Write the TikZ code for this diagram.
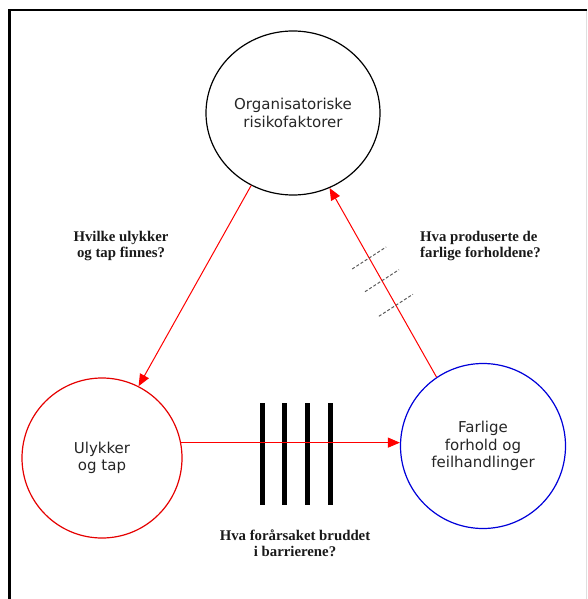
\documentclass[tikz,border=0pt]{standalone}
\usepackage{fontspec}
\newfontfamily\circfont{DejaVu Sans}
\newfontfamily\qfont{Liberation Serif}
\usetikzlibrary{calc,shapes.geometric,arrows.meta}

\tikzset{
  factor/.style={draw, line width=1.2pt, inner sep=0pt, align=center, text=black!85,
    font=\circfont\fontsize{15}{17.5}\selectfont},
  question/.style={font=\qfont\bfseries\fontsize{14.8}{16.5}\selectfont, text=black!90,
    align=center, inner sep=0pt},
  link/.style={red, line width=1pt, -{Triangle[length=12pt,width=10pt]}},
  hatch/.style={black!65, line width=1pt, dash pattern=on 3pt off 2pt},
  barrier/.style={line width=5pt}
}

\begin{document}
\begin{tikzpicture}[x=1pt,y=-1pt]
            \useasboundingbox (0,0) rectangle (587,599);
            % Frame
            \draw[line width=2.4pt] (9.5,599) -- (9.5,10) -- (587,10);
            \draw[gray!25, line width=1pt] (586,11) -- (586,599);

            % Three factors
            \node[factor, ellipse, minimum width=174pt, minimum height=164pt] (org) at (293,113) {Organisatoriske\\risikofaktorer};
            \node[factor, circle, draw=red!90!black, minimum size=160pt] (ulykker) at (102,458) {Ulykker\\og tap};
            \node[factor, circle, draw=blue!85!black, minimum size=165pt] (farlige) at (483,446) {Farlige\\forhold og\\feilhandlinger};

            % Barriers
            \foreach \x in {262,284,307,330} {
                \draw[barrier] (\x,403) -- (\x,505);
            }

            % Links between the factors
            \draw[link] (org.240) -- (ulykker.63);
            \draw[link] (ulykker.11) -- (farlige.west |- ulykker.11);
            \draw[link] (farlige.124) -- (org.296)
                coordinate[pos=0.38] (h1) coordinate[pos=0.51] (h2) coordinate[pos=0.63] (h3);

            % Broken line marks
            \foreach \h in {h1,h2,h3} {
                \draw[hatch] ($(\h)+(-17,11)$) -- ($(\h)+(17,-11)$);
            }

            % Questions
            \node[question] (q1) at (121,246) {Hvilke ulykker\\og tap finnes?};
            \node[question, align=left, anchor=west] (q2) at (420,246) {Hva produserte de\\farlige forholdene?};
            \node[question] (q3) at (295,543) {Hva forårsaket bruddet\\i barrierene?};
\end{tikzpicture}
\end{document}
